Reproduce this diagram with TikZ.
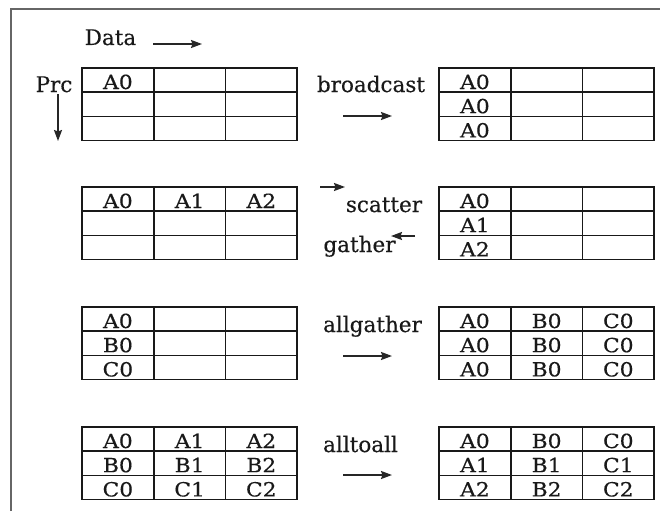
\documentclass[tikz,border=0pt]{standalone}
\usepackage{fontspec}
\setmainfont[FakeBold=0.4]{DejaVu Serif}
\newfontfamily\cellfont[FakeStretch=1.12, FakeBold=0.4]{DejaVu Serif}
\usetikzlibrary{arrows.meta}

% One 3x3 table of processes (rows) and data blocks (columns).
% #1,#2: top-left corner; #3: name prefix; #4: row/column/text entries
\newcommand\celltable[4]{%
  \draw[gridline] (#1,#2) rectangle ++(215,72.5);
  \foreach \i in {1,2} {
    \draw[gridline] (#1+\i*71.7,#2) -- ++(0,72.5);
    \draw[gridline] (#1,#2+\i*24.2) -- ++(215,0);
  }
  \foreach \r/\c/\t in {#4}
    \node[cell, name=#3-\r-\c] at (#1+\c*71.7-35.8, #2+\r*24.2-3.2) {\t};
}

\begin{document}
\begin{tikzpicture}[x=1pt, y=-1pt,
  frame/.style={draw=black!60, line width=1.8pt},
  gridline/.style={draw=black!90, line width=1.7pt},
  lbl/.style={font=\fontsize{21.5}{21.5}\selectfont, text=black!90, inner sep=0pt, anchor=base},
  cell/.style={font=\cellfont\fontsize{19.5}{19.5}\selectfont, text=black!90, inner sep=0pt, anchor=base},
  flow/.style={draw=black!85, line width=1.8pt, -{Stealth[length=11pt, width=8pt, inset=1.5pt]}}]

\useasboundingbox (0,0) rectangle (660,511);

% outer frame (open at right and bottom)
\draw[frame] (11,511) -- (11,9) -- (660,9);

% axis labels
\node[lbl] (data) at (110.5,45) {Data};
\node[lbl] (prc) at (54,92) {Prc};
\coordinate (dataA) at (153,44);
\coordinate (dataB) at (202,44);
\coordinate (prcA) at (58,94);
\coordinate (prcB) at (58,141);
\draw[flow] (dataA) -- (dataB);
\draw[flow] (prcA) -- (prcB);

% broadcast
\celltable{82}{68}{bcL}{1/1/A0}
\celltable{439}{68}{bcR}{1/1/A0, 2/1/A0, 3/1/A0}
\node[lbl] (bcast) at (371,92) {broadcast};
\coordinate (bcA) at (343,116);
\coordinate (bcB) at (392,116);
\draw[flow] (bcA) -- (bcB);

% scatter / gather
\celltable{82}{187}{scL}{1/1/A0, 1/2/A1, 1/3/A2}
\celltable{439}{187}{scR}{1/1/A0, 2/1/A1, 3/1/A2}
\node[lbl] (scatter) at (384,212) {scatter};
\node[lbl] (gather) at (359.5,252) {gather};
\coordinate (scA) at (320,187);
\coordinate (scB) at (345,187);
\coordinate (gaA) at (415,236);
\coordinate (gaB) at (391,236);
\draw[flow] (scA) -- (scB);
\draw[flow] (gaA) -- (gaB);

% allgather
\celltable{82}{307}{agL}{1/1/A0, 2/1/B0, 3/1/C0}
\celltable{439}{307}{agR}{1/1/A0, 1/2/B0, 1/3/C0, 2/1/A0, 2/2/B0, 2/3/C0, 3/1/A0, 3/2/B0, 3/3/C0}
\node[lbl] (allgather) at (372.5,332) {allgather};
\coordinate (agA) at (343,356);
\coordinate (agB) at (392,356);
\draw[flow] (agA) -- (agB);

% alltoall
\celltable{82}{427}{aaL}{1/1/A0, 1/2/A1, 1/3/A2, 2/1/B0, 2/2/B1, 2/3/B2, 3/1/C0, 3/2/C1, 3/3/C2}
\celltable{439}{427}{aaR}{1/1/A0, 1/2/B0, 1/3/C0, 2/1/A1, 2/2/B1, 2/3/C1, 3/1/A2, 3/2/B2, 3/3/C2}
\node[lbl] (alltoall) at (360.5,452) {alltoall};
\coordinate (aaA) at (343,475);
\coordinate (aaB) at (392,475);
\draw[flow] (aaA) -- (aaB);

\end{tikzpicture}
\end{document}
